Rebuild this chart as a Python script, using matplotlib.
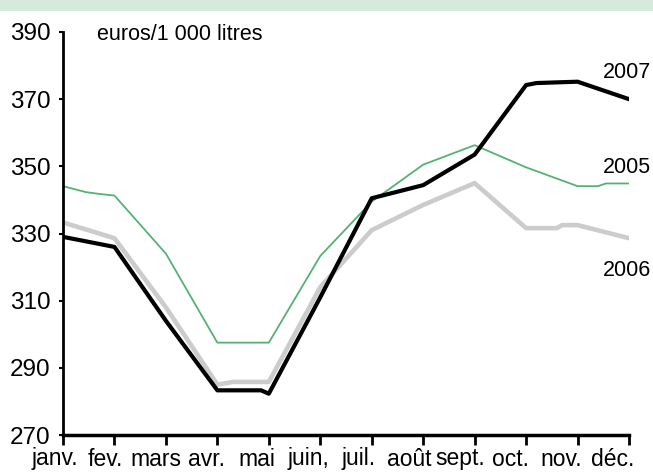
"""Prix du fioul domestique, euros/1 000 litres, 2005-2007

"""

import matplotlib
matplotlib.use('Agg')
import matplotlib.pyplot as plt
import matplotlib.transforms as mtransforms
from matplotlib.patches import Rectangle

months = ['janv.', 'fev.', 'mars', 'avr.', 'mai', 'juin,', 'juil.',
          'août', 'sept.', 'oct.', 'nov.', 'déc.']
yticks = [270, 290, 310, 330, 350, 370, 390]

# month positions (0 = janv.) and values
x_2005 = [0, 0.45, 0.75, 1, 2, 3, 4, 5, 6, 7, 8, 9, 10, 10.4, 10.55, 11]
y_2005 = [344.1, 342.3, 341.7, 341.3, 324.0, 297.5, 297.5, 323.3, 339.5,
          350.5, 356.3, 349.7, 344.1, 344.1, 344.9, 344.9]

x_2006 = [0, 1, 2, 3, 3.3, 4, 5, 6, 7, 8, 9, 9.6, 9.7, 10, 11]
y_2006 = [333.3, 328.6, 308.0, 285.0, 285.8, 285.8, 314.0, 331.0, 338.5,
          345.0, 331.6, 331.6, 332.5, 332.5, 328.6]

x_2007 = [0, 1, 2, 3, 3.85, 4, 5, 6, 7, 8, 9, 9.2, 10, 11]
y_2007 = [329.0, 326.0, 304.0, 283.3, 283.3, 282.3, 311.0, 340.5, 344.4,
          353.5, 374.2, 374.8, 375.2, 370.0]

plt.rcParams['font.family'] = ['Liberation Sans', 'DejaVu Sans']

fig = plt.figure(figsize=(6.53, 4.72), dpi=100)
fig.patches.append(Rectangle((0, 1 - 10 / 472.), 1, 10 / 472., transform=fig.transFigure,
                             color='#d6eadc', zorder=0))
ax = fig.add_axes([63 / 653., 37 / 472., 566 / 653., 403 / 472.])

ax.plot(x_2006, y_2006, color='#cccccc', lw=3.3)
ax.plot(x_2005, y_2005, color='#55b174', lw=1.3)
ax.plot(x_2007, y_2007, color='black', lw=3.0)

ax.text(10.5, 378, '2007', fontsize=15.5, va='center', ha='left', clip_on=False)
ax.text(10.5, 349.8, '2005', fontsize=15.5, va='center', ha='left', clip_on=False)
ax.text(10.5, 319.1, '2006', fontsize=15.5, va='center', ha='left', clip_on=False)
ax.text(0.66, 389.4, 'euros/1 000 litres', fontsize=15.5, va='center', ha='left')

ax.set_xlim(0, 11)
ax.set_ylim(270, 390)
ax.set_xticks(range(12))
ax.set_xticklabels(months, fontsize=16.5)
ax.set_yticks(yticks)
ax.set_yticklabels([str(v) for v in yticks], fontsize=17.5)
ax.tick_params(axis='x', direction='out', length=7, width=2, pad=2)
ax.tick_params(axis='y', direction='out', length=3, width=1.5, pad=6)

# month names sit a little left of their tick marks
for i, lab in enumerate(ax.get_xticklabels()):
    dx = (-8.5 - 0.75 * i) / 100.
    lab.set_transform(lab.get_transform() + mtransforms.ScaledTranslation(dx, 0, fig.dpi_scale_trans))

for side in ['top', 'right']:
    ax.spines[side].set_visible(False)
ax.spines['left'].set_linewidth(2)
ax.spines['bottom'].set_linewidth(2.5)

plt.savefig('out.png', dpi=100)
